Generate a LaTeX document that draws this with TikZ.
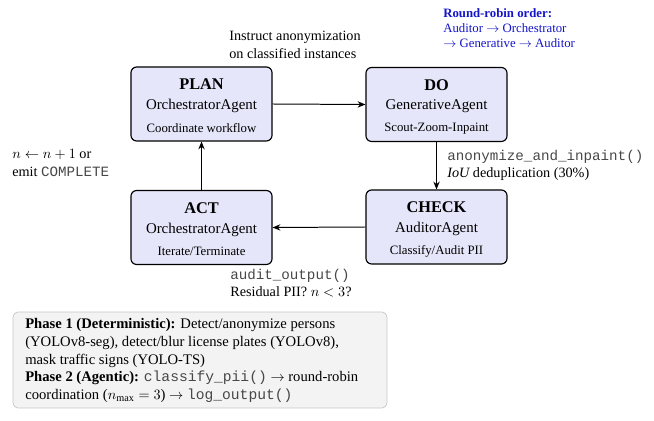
\documentclass[tikz,border=0pt]{standalone}
\usepackage{fontspec}
\setmainfont{Liberation Serif}
\setmonofont{Liberation Mono}
\usetikzlibrary{arrows.meta}
\definecolor{lav}{RGB}{230,230,250}
\definecolor{rrblue}{RGB}{20,20,200}
\definecolor{notefill}{RGB}{243,243,243}
\definecolor{notedraw}{RGB}{200,200,200}
\newcommand{\mytt}[1]{{\ttfamily\color{black!72}#1}}
\begin{document}
\begin{tikzpicture}[x=0.704pt,y=-0.704pt,
  phasebox/.style={draw=black, line width=0.8pt, rounded corners=4pt, fill=lav,
    minimum width=99.3pt, minimum height=52.1pt, inner sep=0pt},
  ttl/.style={font=\fontsize{11.5}{13}\selectfont\bfseries, inner sep=0pt},
  agt/.style={font=\fontsize{10.5}{12}\selectfont, inner sep=0pt},
  dsc/.style={font=\fontsize{9}{11}\selectfont, inner sep=0pt},
  arr/.style={-{Stealth[length=5.5pt,width=4.5pt]}, line width=0.7pt},
  lbl/.style={font=\fontsize{10}{12.2}\selectfont, align=left, inner sep=0pt, anchor=north west}]
\useasboundingbox (0,0) rectangle (654,421);

% phase boxes
\node[phasebox] (plan)  at (201.5,104) {};
\node[phasebox] (do)    at (436.5,104.5) {};
\node[phasebox] (check) at (436.5,227) {};
\node[phasebox] (act)   at (201.5,227.5) {};

% box texts
\node[ttl] (planT) at ([yshift=19.5*0.704pt]plan.center) {PLAN};
\node[agt] (planA) at ([yshift=-2*0.704pt]plan.center) {OrchestratorAgent};
\node[dsc] (planD) at ([yshift=-24*0.704pt]plan.center) {Coordinate workflow};

\node[ttl] (doT) at ([yshift=19.5*0.704pt]do.center) {DO};
\node[agt] (doA) at ([yshift=-2*0.704pt]do.center) {GenerativeAgent};
\node[dsc] (doD) at ([yshift=-24*0.704pt]do.center) {Scout-Zoom-Inpaint};

\node[ttl] (checkT) at ([yshift=19.5*0.704pt]check.center) {CHECK};
\node[agt] (checkA) at ([yshift=-2*0.704pt]check.center) {AuditorAgent};
\node[dsc] (checkD) at ([yshift=-24*0.704pt]check.center) {Classify/Audit PII};

\node[ttl] (actT) at ([yshift=19.5*0.704pt]act.center) {ACT};
\node[agt] (actA) at ([yshift=-2*0.704pt]act.center) {OrchestratorAgent};
\node[dsc] (actD) at ([yshift=-24*0.704pt]act.center) {Iterate/Terminate};

% connectors
\draw[arr] (plan.east) -- (do.west);
\draw[arr] (do.south) -- (check.north);
\draw[arr] (check.west) -- (act.east);
\draw[arr] (act.north) -- (plan.south);

% labels
\node[lbl] (instr) at (229,31) {Instruct anonymization\\on classified instances};
\node[lbl, font=\fontsize{9}{10.7}\selectfont, text=rrblue] (rr) at (443,8)
  {\textbf{Round-robin order:}\\Auditor $\rightarrow$ Orchestrator\\$\rightarrow$ Generative $\rightarrow$ Auditor};
\node[lbl] (dolbl) at (447,149.5) {\mytt{anonymize\textunderscore and\textunderscore inpaint()}\\$\mathit{IoU}$ deduplication (30\%)};
\node[lbl] (actlbl) at (12,149.5) {$n \leftarrow n+1$ or\\emit \mytt{COMPLETE}};
\node[lbl] (chklbl) at (230,269) {\mytt{audit\textunderscore output()}\\Residual PII? $n<3$?};

% note box
\node[draw=notedraw, fill=notefill, line width=0.5pt, rounded corners=4pt,
  minimum width=263.3pt, minimum height=67.6pt, inner sep=0pt] (note) at (200,360) {};
\node[lbl, anchor=west, font=\fontsize{10.3}{12.6}\selectfont] (notetext) at (25,360.5)
  {\textbf{Phase 1 (Deterministic):} Detect/anonymize persons\\
   (YOLOv8-seg), detect/blur license plates (YOLOv8),\\
   mask traffic signs (YOLO-TS)\\
   \textbf{Phase 2 (Agentic):} \mytt{classify\textunderscore pii()} $\rightarrow$ round-robin\\
   coordination ($n_{\max}=3$) $\rightarrow$ \mytt{log\textunderscore output()}};
\end{tikzpicture}
\end{document}
